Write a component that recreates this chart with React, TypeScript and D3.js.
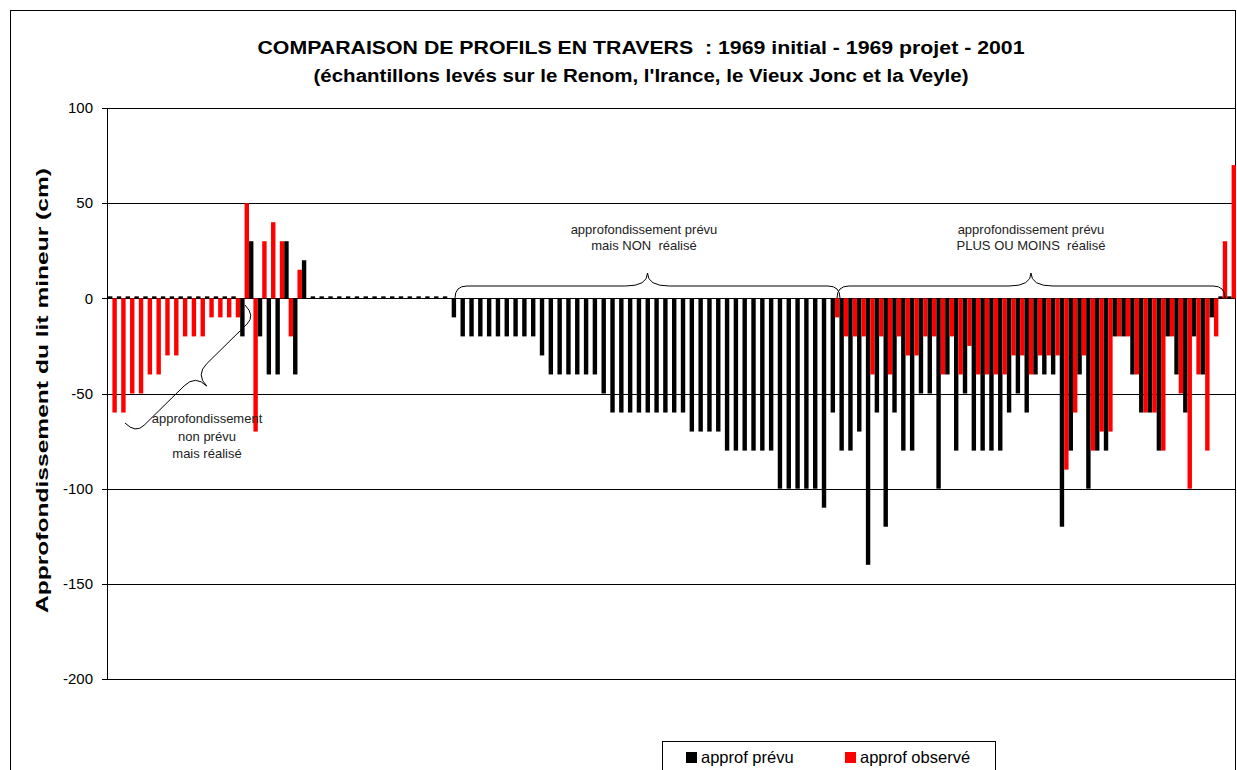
import React from 'react';
import * as d3 from 'd3';

const W = 1237;
const H = 770;

// prévu (black) values per profile
const planned: (number | null)[] = [
  0, 0, 0, 0, 0, 0, 0, 0, 0, 0, 0, 0, 0, 0, 0,
  -20, 30, -20, -40, -40, 30, -40, 20,
  0, 0, 0, 0, 0, 0, 0, 0, 0, 0, 0, 0, 0, 0, 0, 0,
  -10,
  -20, -20, -20, -20, -20, -20, -20, -20, -20,
  -30,
  -40, -40, -40, -40, -40, -40,
  -50,
  -60, -60, -60, -60, -60, -60, -60, -60, -60,
  -70, -70, -70, -70,
  -80, -80, -80, -80, -80, -80,
  -100, -100, -100, -100, -100,
  -110,
  -60, -80, -80, -70, -140, -60, -120, -60, -80, -80,
  -50, -50, -100, -40, -80, -50, -80, -80, -80, -80,
  -60, -50, -60, -40, -40, -40, -120, -80, -40, -100,
  -80, -80, -20, -20, -40, -60, -60, -80, -20, -40,
  -60, -20, -40, -10, 0, 0,
];

// observé (red) values per profile
const observed: (number | null)[] = [
  -60, -60, -50, -50, -40, -40, -30, -30, -20, -20, -20, -10, -10, -10, -10,
  50, -70, 30, 40, 30, -20, 15, null,
  null, null, null, null, null, null, null, null, null, null, null, null, null, null, null, null,
  null,
  null, null, null, null, null, null, null, null, null,
  null,
  null, null, null, null, null, null,
  null,
  null, null, null, null, null, null, null, null, null,
  null, null, null, null,
  null, null, null, null, null, null,
  null, null, null, null, null,
  null,
  -10, -20, -20, -20, -40, -20, -40, -20, -30, -30,
  -20, -20, -40, -20, -40, -25, -40, -40, -40, -40,
  -30, -30, -40, -30, -30, -30, -90, -60, -30, -80,
  -70, -70, -20, -20, -40, -60, -60, -80, -20, -50,
  -100, -40, -80, -20, 30, 70,
];

const categories: number[] = planned.map((_, i) => i + 1);
const yTicks: number[] = [100, 50, 0, -50, -100, -150, -200];

const titleLines: string[] = [
  'COMPARAISON DE PROFILS EN TRAVERS  : 1969 initial - 1969 projet - 2001',
  "(échantillons levés sur le Renom, l'Irance, le Vieux Jonc et la Veyle)",
];
const yTitle = 'Approfondissement du lit mineur (cm)';
const legendItems = [
  { label: 'approf prévu', color: '#000000' },
  { label: 'approf observé', color: '#ff0000' },
];

// curly brace between p1 and p2, tip on one side of the chord
function bracePath(
  x1: number, y1: number, x2: number, y2: number,
  h: number, d: number, r: number, r2: number, side: 1 | -1,
) {
  const L = Math.hypot(x2 - x1, y2 - y1);
  const ux = (x2 - x1) / L;
  const uy = (y2 - y1) / L;
  const nx = -uy * side;
  const ny = ux * side;
  const P = (a: number, b: number) => `${(x1 + ux * a + nx * b).toFixed(2)},${(y1 + uy * a + ny * b).toFixed(2)}`;
  const m = L / 2;
  return [
    `M${P(0, 0)}`, `Q${P(0, h)} ${P(r, h)}`, `L${P(m - r2, h)}`, `Q${P(m, h)} ${P(m, d)}`,
    `M${P(L, 0)}`, `Q${P(L, h)} ${P(L - r, h)}`, `L${P(m + r2, h)}`, `Q${P(m, h)} ${P(m, d)}`,
  ].join(' ');
}

export default function App() {
  const plotLeft = 108;
  const plotRight = 1236;
  const plotTop = 108;
  const plotBottom = 679;

  const x = d3.scaleBand<number>().domain(categories).range([plotLeft, plotRight]).paddingInner(0).paddingOuter(0);
  const y = d3.scaleLinear().domain([-200, 100]).range([plotBottom, plotTop]);
  const bw = x.bandwidth() / 2;
  const y0 = y(0);

  const font = 'Arial, "Liberation Sans", Helvetica, sans-serif';

  return (
    <svg width={W} height={H} style={{ position: 'absolute', left: 0, top: 0, background: '#fff' }} fontFamily={font}>
      <rect x={0} y={0} width={W} height={H} fill="#fff" />
      <rect x={10.5} y={10.5} width={1225} height={800} fill="none" stroke="#000" strokeWidth={1} />

      {/* title */}
      {titleLines.map((t, i) => (
        <text
          key={i}
          x={641}
          y={54 + i * 28}
          textAnchor="middle"
          fontWeight="bold"
          fontSize={18}
          textLength={i === 0 ? 767 : 655}
          lengthAdjust="spacingAndGlyphs"
          style={{ whiteSpace: 'pre' }}
        >
          {t}
        </text>
      ))}

      {/* gridlines */}
      {yTicks.map((t) => (
        <g key={t}>
          <line x1={plotLeft - 6} x2={plotRight} y1={Math.round(y(t)) + 0.5} y2={Math.round(y(t)) + 0.5} stroke="#000" strokeWidth={1} />
          <text x={93} y={y(t)} dy="0.35em" textAnchor="end" fontSize={15}>
            {t}
          </text>
        </g>
      ))}
      <line x1={plotLeft - 0.5} x2={plotLeft - 0.5} y1={plotTop} y2={plotBottom} stroke="#000" strokeWidth={1} />

      {/* bars */}
      {categories.map((c, i) => {
        const p = planned[i];
        const o = observed[i];
        const bx = x(c) as number;
        return (
          <g key={c}>
            {p !== null && (
              <rect
                x={bx}
                y={p === 0 ? y0 - 2 : Math.min(y(p), y0)}
                width={bw}
                height={p === 0 ? 2 : Math.abs(y(p) - y0)}
                fill="#000"
              />
            )}
            {o !== null && o !== 0 && (
              <rect x={bx + bw} y={Math.min(y(o), y0)} width={bw} height={Math.abs(y(o) - y0)} fill="#ff0000" />
            )}
          </g>
        );
      })}

      {/* y axis title */}
      <text
        transform={`translate(48,${(plotTop + plotBottom) / 2 - 3}) rotate(-90)`}
        textAnchor="middle"
        fontWeight="bold"
        fontSize={17}
        textLength={445}
        lengthAdjust="spacingAndGlyphs"
      >
        {yTitle}
      </text>

      {/* annotations */}
      <path d={bracePath(125, 423, 245, 305, 15, 31, 12, 16, 1)} fill="none" stroke="#000" strokeWidth={1} />
      <text x={207} y={423} textAnchor="middle" fontSize={13} fill="#222">approfondissement</text>
      <text x={207} y={441} textAnchor="middle" fontSize={13} fill="#222">non prévu</text>
      <text x={207} y={458} textAnchor="middle" fontSize={13} fill="#222">mais réalisé</text>

      <path d={bracePath(455, 298, 840, 298, 12, 25, 12, 22, -1)} fill="none" stroke="#000" strokeWidth={1} />
      <text x={644} y={234} textAnchor="middle" fontSize={13} fill="#222">approfondissement prévu</text>
      <text x={644} y={250} textAnchor="middle" fontSize={13} fill="#222" style={{ whiteSpace: 'pre' }}>mais NON  réalisé</text>

      <path d={bracePath(837, 298, 1225, 298, 12, 25, 12, 22, -1)} fill="none" stroke="#000" strokeWidth={1} />
      <text x={1031} y={234} textAnchor="middle" fontSize={13} fill="#222">approfondissement prévu</text>
      <text x={1031} y={250} textAnchor="middle" fontSize={13} fill="#222" style={{ whiteSpace: 'pre' }}>PLUS OU MOINS  réalisé</text>

      {/* legend */}
      <rect x={662.5} y={741.5} width={333} height={60} fill="#fff" stroke="#000" strokeWidth={1} />
      {legendItems.map((it, i) => (
        <g key={it.label}>
          <rect x={686 + i * 159} y={752} width={11} height={11} fill={it.color} />
          <text x={701 + i * 159} y={763} fontSize={16.5}>
            {it.label}
          </text>
        </g>
      ))}
    </svg>
  );
}
